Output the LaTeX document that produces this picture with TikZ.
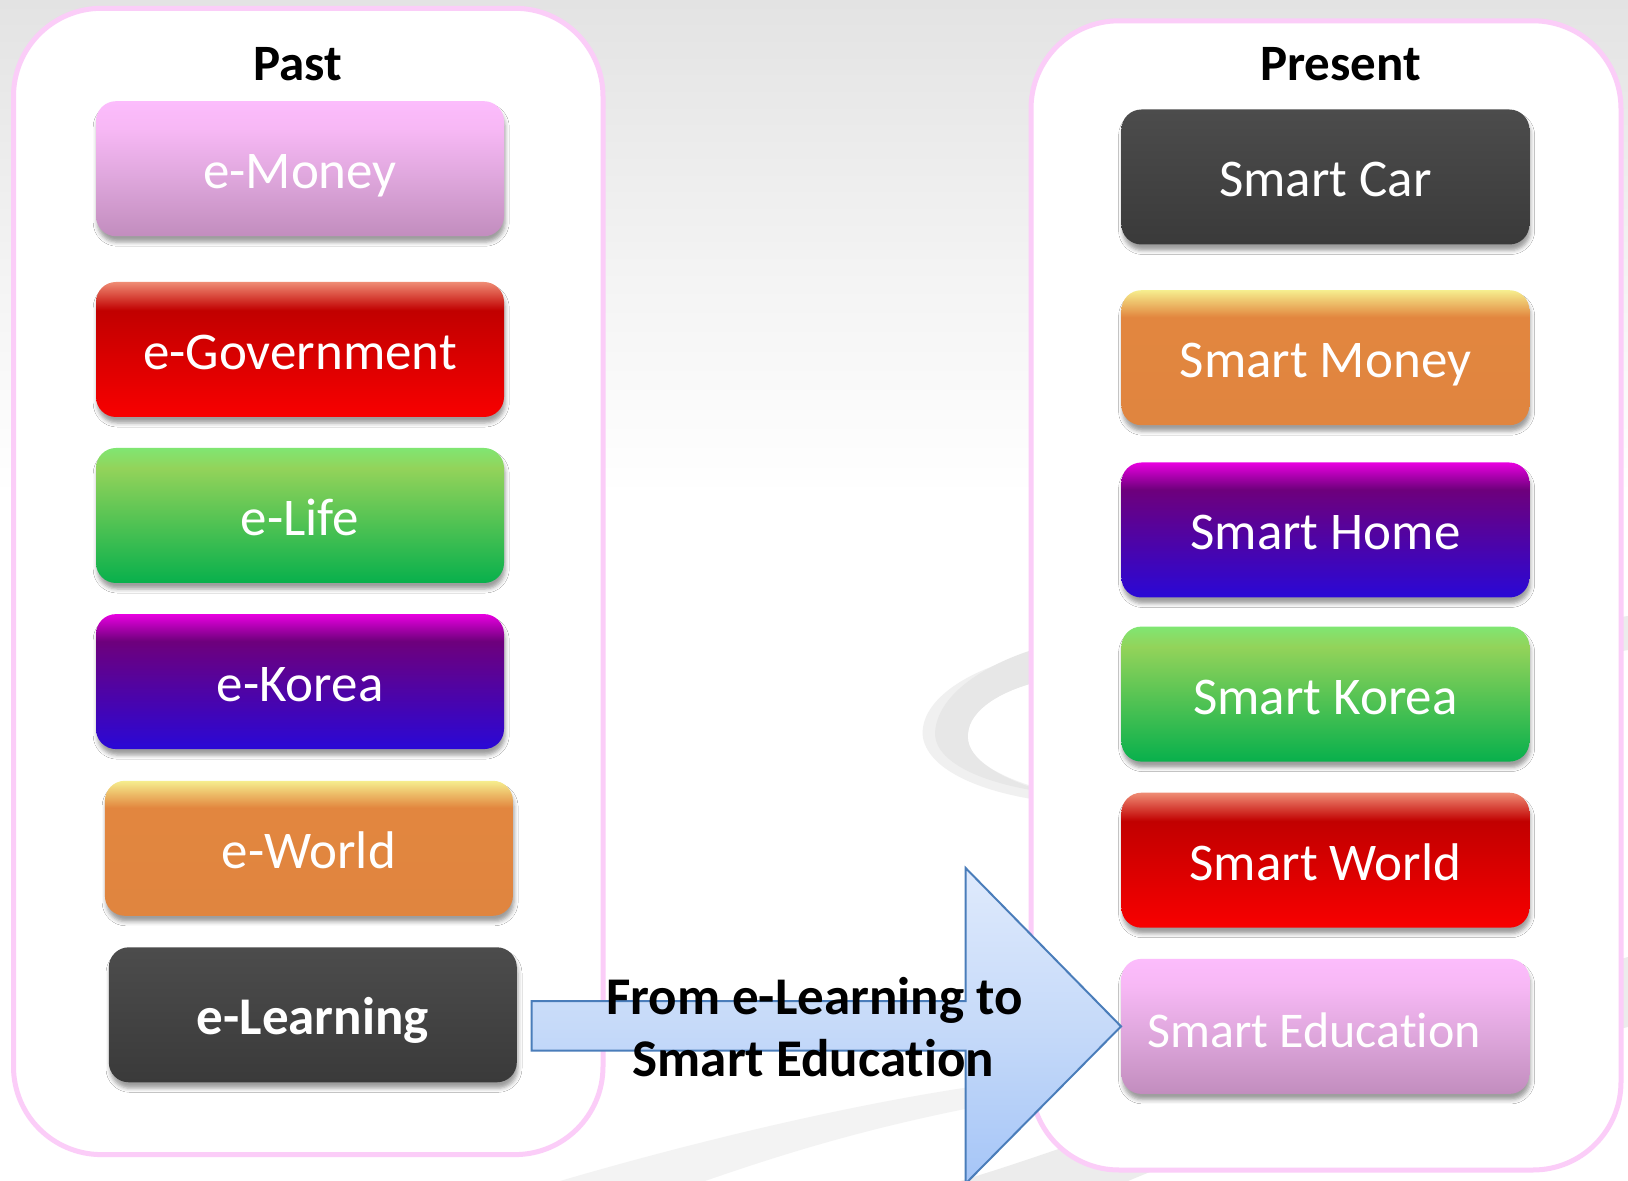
\documentclass[tikz,border=0pt]{standalone}
\usepackage{fontspec}
\setmainfont{Carlito}[Ligatures={TeX,NoCommon}]
\usetikzlibrary{shadows.blur}

\definecolor{pinkline}{HTML}{FBCDF8}
\definecolor{arrowline}{HTML}{4A7DBA}
\definecolor{swA}{HTML}{E7E7E7}
\definecolor{swB}{HTML}{F0F0F0}
\definecolor{swC}{HTML}{F3F3F3}
\definecolor{swD}{HTML}{ECECEC}

\definecolor{bgT}{HTML}{E3E3E3}
\definecolor{bgM}{HTML}{F4F4F4}
\pgfdeclareverticalshading{bgshade}{100bp}{color(0bp)=(white); color(25bp)=(white); color(54bp)=(white); color(63bp)=(bgM); color(75bp)=(bgT); color(100bp)=(bgT)}

\definecolor{rT}{HTML}{EF8C74}
\definecolor{rM}{HTML}{C10000}
\definecolor{rB}{HTML}{F80000}
\pgfdeclareverticalshading{gred}{100bp}{color(0bp)=(rB); color(25bp)=(rB); color(64.5bp)=(rM); color(75bp)=(rT); color(100bp)=(rT)}

\definecolor{gT}{HTML}{80E672}
\definecolor{gM}{HTML}{93D35A}
\definecolor{gB}{HTML}{08B04C}
\pgfdeclareverticalshading{ggreen}{100bp}{color(0bp)=(gB); color(25bp)=(gB); color(67.5bp)=(gM); color(75bp)=(gT); color(100bp)=(gT)}

\definecolor{pT}{HTML}{E800E0}
\definecolor{pM}{HTML}{6E007C}
\definecolor{pB}{HTML}{2A08D6}
\pgfdeclareverticalshading{gpurple}{100bp}{color(0bp)=(pB); color(25bp)=(pB); color(65bp)=(pM); color(75bp)=(pT); color(100bp)=(pT)}

\definecolor{oT}{HTML}{F6EE8E}
\definecolor{oM}{HTML}{E2863F}
\definecolor{oB}{HTML}{E0853F}
\pgfdeclareverticalshading{gorange}{100bp}{color(0bp)=(oB); color(25bp)=(oB); color(65bp)=(oM); color(75bp)=(oT); color(100bp)=(oT)}

\definecolor{kT}{HTML}{FCBCFC}
\definecolor{kM}{HTML}{F7B8F5}
\definecolor{kN}{HTML}{E0A8DE}
\definecolor{kB}{HTML}{C28DBE}
\pgfdeclareverticalshading{gpink}{100bp}{color(0bp)=(kB); color(25bp)=(kB); color(48bp)=(kN); color(65bp)=(kM); color(75bp)=(kT); color(100bp)=(kT)}

\definecolor{dT}{HTML}{4C4C4C}
\definecolor{dB}{HTML}{3A3A3A}
\pgfdeclareverticalshading{gdark}{100bp}{color(0bp)=(dB); color(25bp)=(dB); color(75bp)=(dT); color(100bp)=(dT)}

\definecolor{aT}{HTML}{DFEAFC}
\definecolor{aM}{HTML}{C6DAF9}
\definecolor{aB}{HTML}{A5C5F7}
\pgfdeclareverticalshading{garrow}{100bp}{color(0bp)=(aB); color(25bp)=(aB); color(50bp)=(aM); color(75bp)=(aT); color(100bp)=(aT)}

\begin{document}
\begin{tikzpicture}[x=0.5pt,y=-0.5pt,
  item/.style={minimum width=204pt, minimum height=67.5pt, inner sep=0pt,
    rounded corners=10pt, text=white, font=\fontsize{26.5}{30}\selectfont,
    text height=20pt, text depth=0pt,
    blur shadow={shadow xshift=0.6pt, shadow yshift=-3pt, shadow blur radius=2pt, shadow opacity=38}},
  itemlabel/.style={text=white, font=\fontsize{25}{30}\selectfont, inner sep=0pt},
  container/.style={draw=pinkline, line width=2.5pt, fill=white, rounded corners=44pt},
  title/.style={font=\bfseries\fontsize{25.5}{30}\selectfont, inner sep=0pt},
  arrowtext/.style={font=\bfseries\fontsize{26.5}{30}\selectfont, inner sep=0pt},
]
% background
\path[shading=bgshade] (0,0) rectangle (1628,1181);
\useasboundingbox (0,0) rectangle (1628,1181);

% swooshes
\fill[swB] (1045,652) .. controls (960,668) and (918,705) .. (923,738)
  .. controls (930,772) and (985,793) .. (1045,801) -- (1045,790)
  .. controls (990,775) and (965,755) .. (968,733)
  .. controls (970,710) and (1000,690) .. (1045,680) -- cycle;
\fill[swA] (1045,646) .. controls (975,666) and (935,700) .. (935,735)
  .. controls (937,765) and (990,785) .. (1045,792)
  .. controls (990,775) and (965,755) .. (968,733)
  .. controls (970,710) and (1000,690) .. (1045,680) -- cycle;
\fill[swD] (1600,620) -- (1628,616) -- (1628,650) -- (1600,655) -- cycle;
\fill[swC] (560,1181) .. controls (700,1140) and (850,1105) .. (970,1087)
  -- (970,1108) .. controls (860,1130) and (780,1155) .. (705,1181) -- cycle;
\fill[swD] (960,1181) .. controls (1100,1140) and (1400,1020) .. (1628,957)
  -- (1628,1027) .. controls (1400,1080) and (1250,1130) .. (1128,1181) -- cycle;

% containers
\path[container] (13.5,8.3) rectangle (603,1154.6);
\path[container] (1031,20.8) rectangle (1621,1170);

% titles
\node[title] (past) at (298,64) {Past};
\node[title] (present) at (1340.5,64) {Present};

% past items
\node[item, shading=gpink]   (emoney) at (300,168.7) {e-Money};
\node[item, shading=gred]    (egov)   at (300,349.5) {e-Government};
\node[item, shading=ggreen]  (elife)  at (300,515.5) {e-Life};
\node[item, shading=gpurple] (ekorea) at (300,681.6) {e-Korea};
\node[item, shading=gorange] (eworld) at (308.9,848.3) {e-World};
\node[item, shading=gdark, font=\bfseries\fontsize{26.5}{30}\selectfont] (elearn) at (312.8,1014.8) {e-Learning};

% present items
\node[item, shading=gdark]   (scar)   at (1325.4,177) {Smart Car};
\node[item, shading=gorange] (smoney) at (1325.4,357.7) {Smart Money};
\node[item, shading=gpurple] (shome)  at (1325.4,530) {Smart Home};
\node[item, shading=ggreen]  (skorea) at (1325.4,694.1) {Smart Korea};
\node[item, shading=gred]    (sworld) at (1325.4,860.2) {Smart World};
\node[item, shading=gpink]   (sedu)   at (1325.4,1026.4) {};
\node[itemlabel, anchor=base west] (sedutext) at (1147,1047) {Smart Education};

% big arrow
\coordinate (as1) at (531.6,1001);
\coordinate (as2) at (965.6,1001);
\coordinate (ah1) at (965.6,868);
\coordinate (atip) at (sedu.west);
\coordinate (ah2) at (965.6,1183.6);
\coordinate (as3) at (965.6,1050.7);
\coordinate (as4) at (531.6,1050.7);
\path[draw=arrowline, line width=1pt, shading=garrow]
  (as1) -- (as2) -- (ah1) -- (atip) -- (ah2) -- (as3) -- (as4) -- cycle;

% arrow text
\node[arrowtext, anchor=base] (t1) at (814.5,1014.5) {From e-Learning to};
\node[arrowtext, anchor=base] (t2) at (813.5,1076) {Smart Education};
\end{tikzpicture}
\end{document}
